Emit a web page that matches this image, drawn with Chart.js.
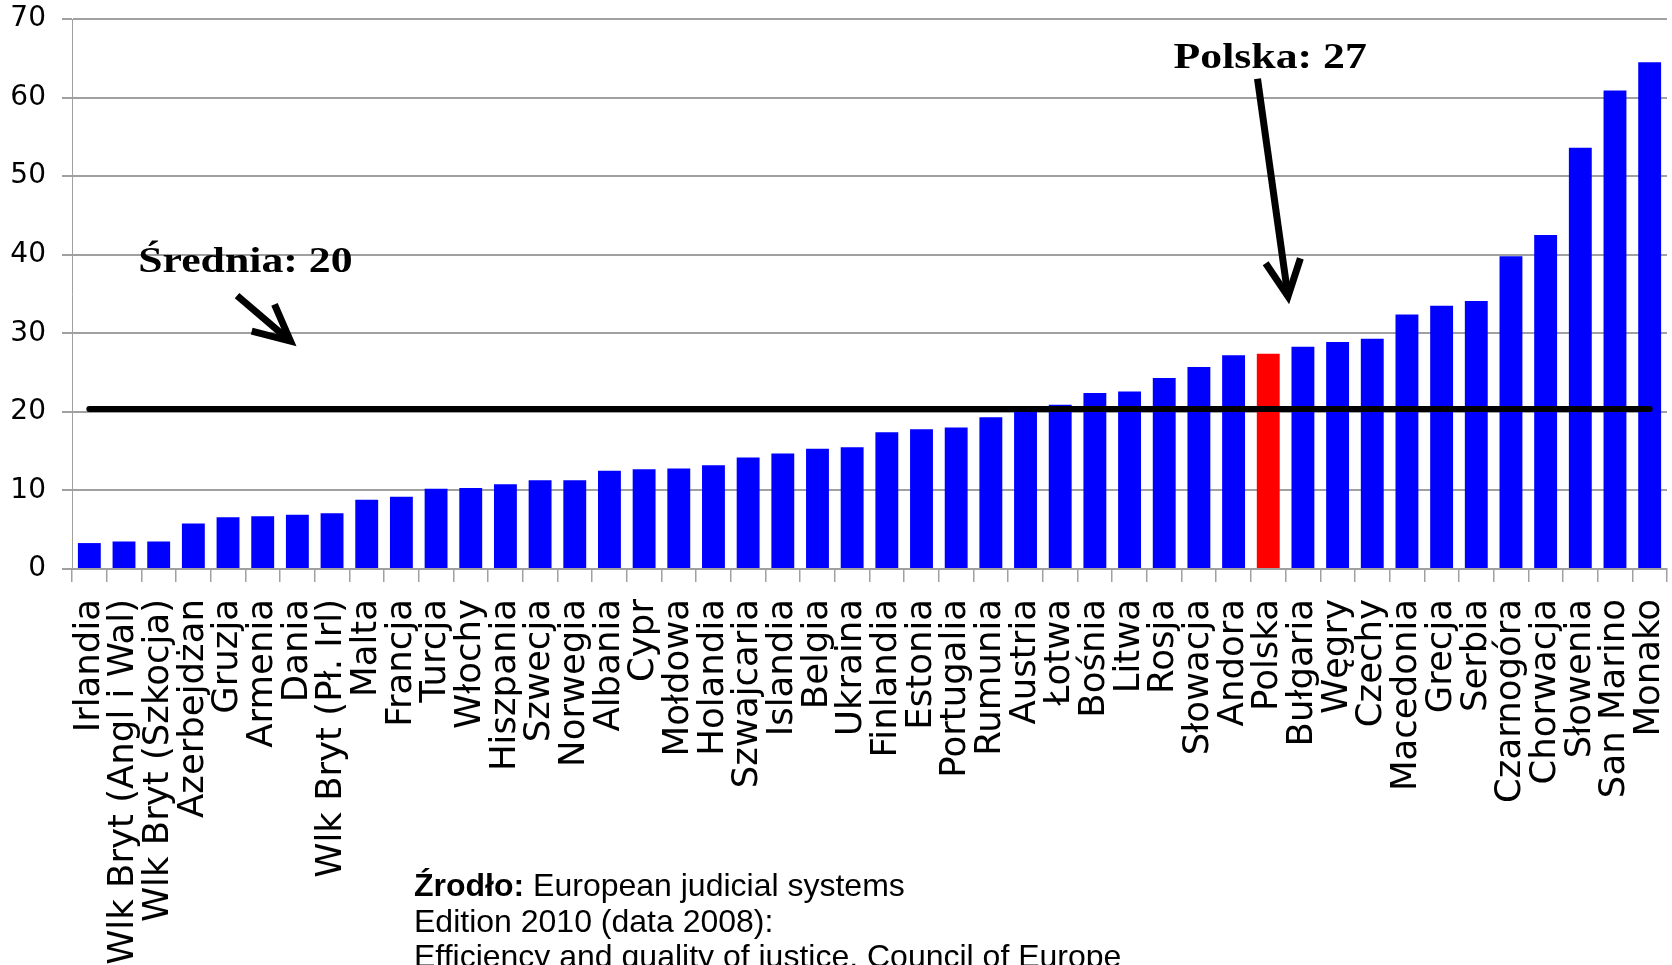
<!DOCTYPE html>
<html lang="pl">
<head>
<meta charset="utf-8">
<title>Sędziowie zawodowi na 100 tys. mieszkańców</title>
<script src="https://cdn.jsdelivr.net/npm/chart.js@4.4.1/dist/chart.umd.min.js"></script>
<style>
  html, body { margin: 0; padding: 0; background: #fff; overflow: hidden; }
  #wrap { position: absolute; left: 0; top: 0; width: 1672px; height: 1000px; }
  #zrodlo {
    position: absolute; left: 414px; top: 868px;
    font: 32px "Liberation Sans", Arial, sans-serif; line-height: 35.5px;
    color: #000; white-space: nowrap;
  }
</style>
</head>
<body>
<div id="wrap"><canvas id="chart"></canvas></div>
<div id="zrodlo"><b>Źrodło:</b> European judicial systems<br>Edition 2010 (data 2008):<br>Efficiency and quality of justice, Council of Europe</div>
<script>
// kraje i wartości
const kraje = [
  "Irlandia", "Wlk Bryt (Angl i Wal)", "Wlk Bryt (Szkocja)", "Azerbejdżan", "Gruzja",
  "Armenia", "Dania", "Wlk Bryt (Pł. Irl)", "Malta", "Francja", "Turcja", "Włochy",
  "Hiszpania", "Szwecja", "Norwegia", "Albania", "Cypr", "Mołdowa", "Holandia",
  "Szwajcaria", "Islandia", "Belgia", "Ukraina", "Finlandia", "Estonia", "Portugalia",
  "Rumunia", "Austria", "Łotwa", "Bośnia", "Litwa", "Rosja", "Słowacja", "Andora",
  "Polska", "Bułgaria", "Węgry", "Czechy", "Macedonia", "Grecja", "Serbia",
  "Czarnogóra", "Chorwacja", "Słowenia", "San Marino", "Monako"
];
const sedziowie = [
  3.3, 3.5, 3.5, 5.8, 6.6, 6.7, 6.9, 7.1, 8.8, 9.2, 10.2, 10.3,
  10.8, 11.3, 11.3, 12.5, 12.7, 12.8, 13.2, 14.2, 14.7, 15.3, 15.5, 17.4,
  17.8, 18.0, 19.3, 20.4, 20.9, 22.4, 22.6, 24.3, 25.7, 27.2, 27.4, 28.3,
  28.9, 29.3, 32.4, 33.5, 34.1, 39.8, 42.5, 53.6, 60.9, 64.5
];
const wyroznione = "Polska";
const srednia = 20.35;
const osY = { min: 0, max: 70, krok: 10 };

// adnotacje w jednostkach wykresu (indeks kategorii, wartość)
const napisy = [
  { tekst: "Średnia: 20", x: 1.41, y: 37.75 },
  { tekst: "Polska: 27", x: 31.27, y: 63.77 }
];
const strzalki = [
  { od: [4.26, 34.8], do: [5.80, 29.0] },
  { od: [33.69, 62.4], do: [34.57, 34.7] }
];

const adnotacje = {
  id: 'adnotacje',
  afterDatasetsDraw(chart) {
    const ctx = chart.ctx;
    const x = chart.scales.x, y = chart.scales.y;
    ctx.save();
    ctx.strokeStyle = '#000';
    ctx.fillStyle = '#000';

    // linia średniej
    ctx.lineWidth = 6;
    ctx.lineCap = 'round';
    ctx.beginPath();
    ctx.moveTo(x.getPixelForValue(0), y.getPixelForValue(srednia));
    ctx.lineTo(x.getPixelForValue(kraje.length - 1), y.getPixelForValue(srednia));
    ctx.stroke();

    // strzałki
    ctx.lineWidth = 7;
    ctx.lineCap = 'butt';
    ctx.lineJoin = 'miter';
    strzalki.forEach(s => {
      const x0 = x.getPixelForValue(s.od[0]), y0 = y.getPixelForValue(s.od[1]);
      const x1 = x.getPixelForValue(s.do[0]), y1 = y.getPixelForValue(s.do[1]);
      const kat = Math.atan2(y1 - y0, x1 - x0);
      const dl = 40, roz = 26 * Math.PI / 180;
      ctx.beginPath();
      ctx.moveTo(x0, y0);
      ctx.lineTo(x1 - 4 * Math.cos(kat), y1 - 4 * Math.sin(kat));
      ctx.stroke();
      ctx.beginPath();
      ctx.moveTo(x1 - dl * Math.cos(kat - roz), y1 - dl * Math.sin(kat - roz));
      ctx.lineTo(x1, y1);
      ctx.lineTo(x1 - dl * Math.cos(kat + roz), y1 - dl * Math.sin(kat + roz));
      ctx.stroke();
    });

    // napisy
    ctx.font = 'bold 35px "Liberation Serif", "Times New Roman", serif';
    ctx.textAlign = 'left';
    ctx.textBaseline = 'alphabetic';
    napisy.forEach(n => {
      ctx.save();
      ctx.translate(x.getPixelForValue(n.x), y.getPixelForValue(n.y));
      ctx.scale(1.25, 1);
      ctx.fillText(n.tekst, 0, 0);
      ctx.restore();
    });
    ctx.restore();
  }
};

new Chart(document.getElementById('chart'), {
  type: 'bar',
  data: {
    labels: kraje,
    datasets: [{
      data: sedziowie,
      backgroundColor: kraje.map(k => k === wyroznione ? '#ff0000' : '#0000ff'),
      barPercentage: 0.66,
      categoryPercentage: 1
    }]
  },
  options: {
    responsive: true,
    maintainAspectRatio: false,
    animation: false,
    layout: { padding: { top: 19, right: 5, left: 0, bottom: 0 } },
    plugins: {
      legend: { display: false },
      tooltip: { enabled: false }
    },
    scales: {
      x: {
        grid: { drawOnChartArea: false, tickLength: 13, color: '#a0a0a0', lineWidth: 1.5 },
        border: { color: '#a0a0a0', width: 2 },
        ticks: {
          autoSkip: false, minRotation: 90, maxRotation: 90, padding: 17,
          color: '#000', font: { family: 'DejaVu Sans', size: 35.5 }
        },
        afterFit(s) {
          s.height = 431;
          s.paddingLeft = 0;
          s.paddingRight = 0;
        }
      },
      y: {
        min: osY.min,
        max: osY.max,
        grid: { color: '#a0a0a0', lineWidth: 2, tickLength: 10 },
        border: { color: '#a0a0a0', width: 1 },
        ticks: {
          stepSize: osY.krok, padding: 16,
          color: '#000', font: { family: 'DejaVu Sans', size: 28 }
        },
        afterFit(s) {
          s.width = 72;
          s.paddingTop = 0;
          s.paddingBottom = 0;
        }
      }
    }
  },
  plugins: [adnotacje]
});
</script>
</body>
</html>
